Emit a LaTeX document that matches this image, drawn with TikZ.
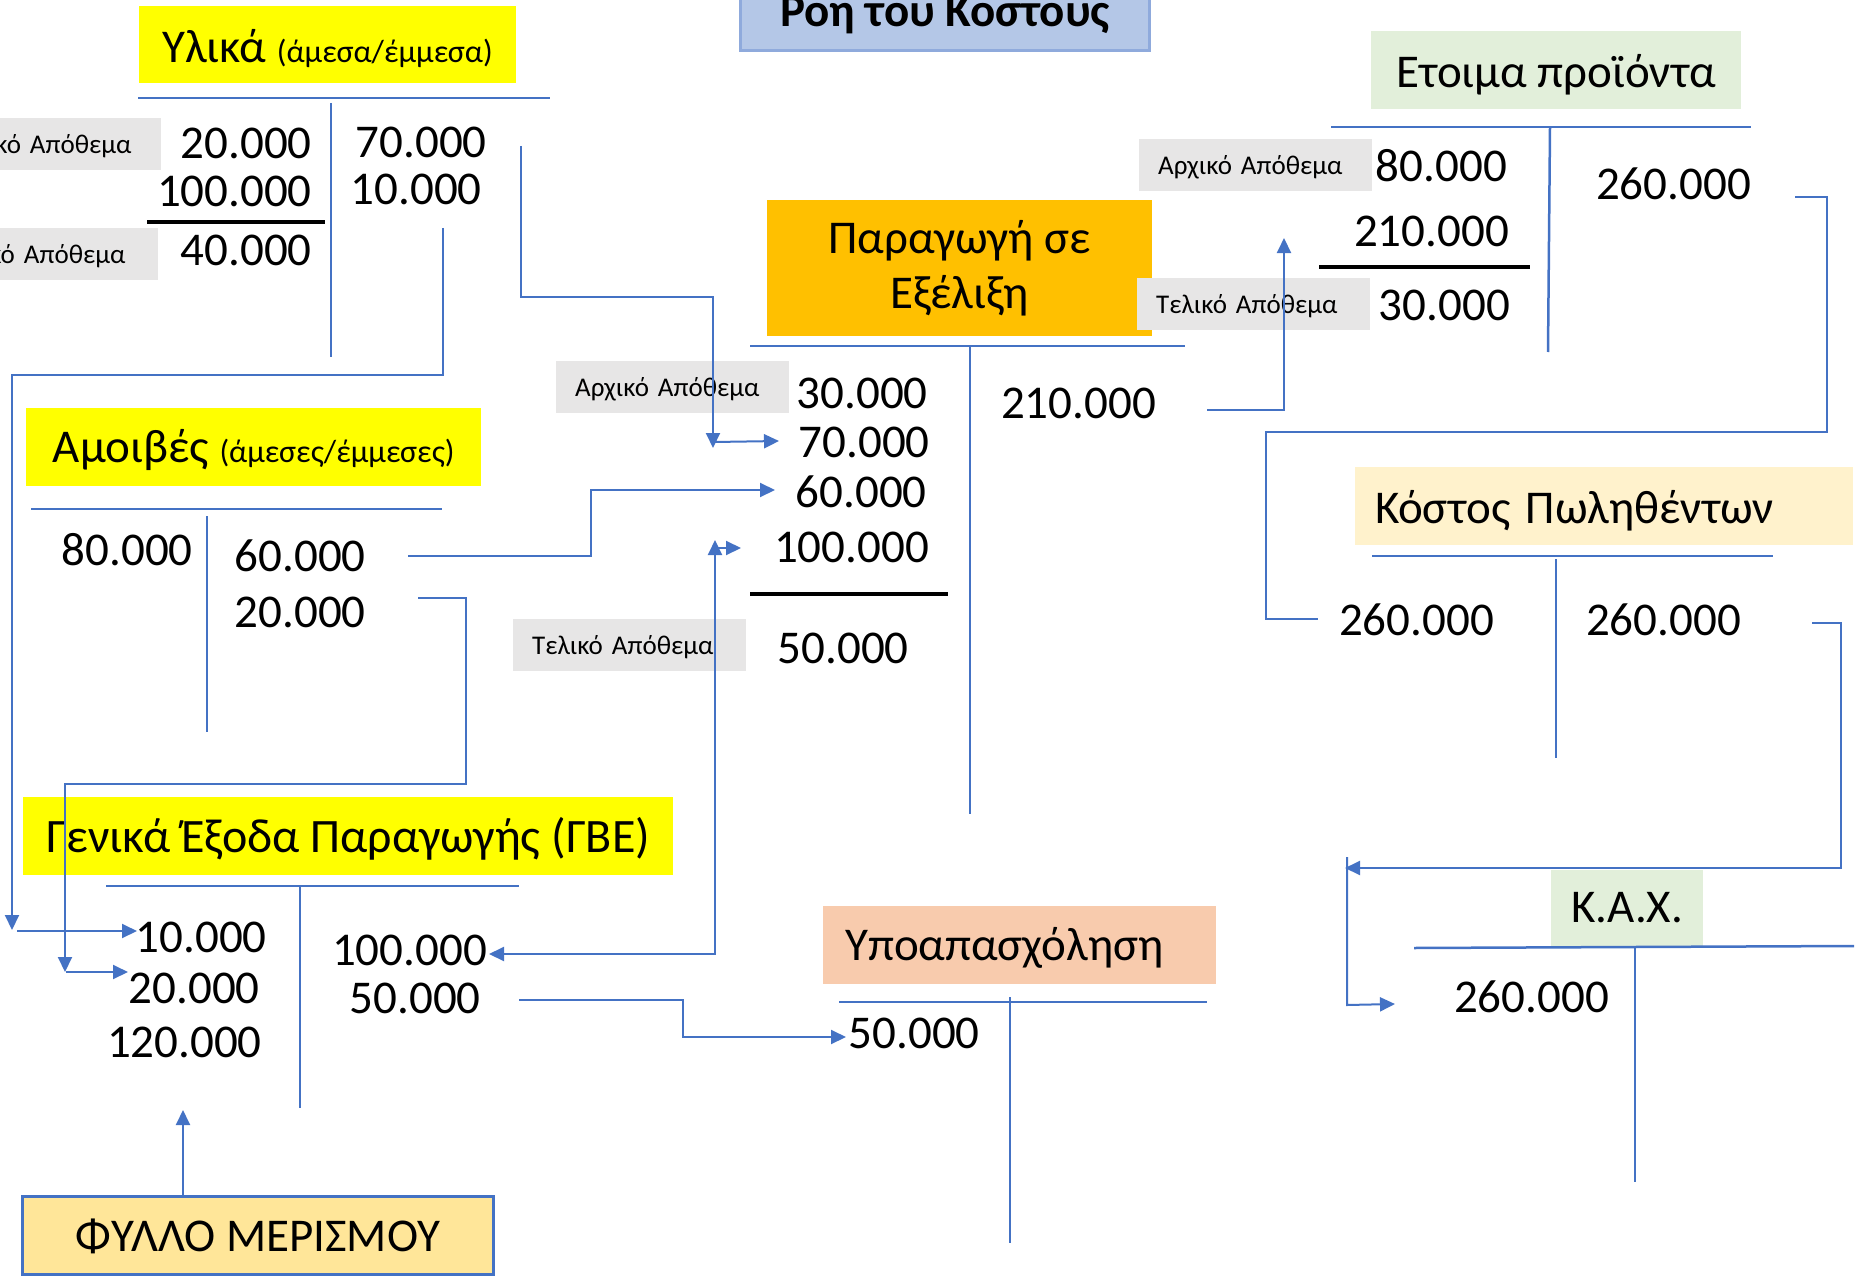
\documentclass[tikz,border=0pt]{standalone}
\usepackage{fontspec}
\setmainfont{Carlito}
\usetikzlibrary{arrows.meta}
\definecolor{lineblue}{HTML}{4472C4}
\definecolor{lblgrey}{HTML}{E7E6E6}
\definecolor{yel}{HTML}{FFFF00}
\definecolor{orng}{HTML}{FFC000}
\definecolor{grn}{HTML}{E2EFDA}
\definecolor{cream}{HTML}{FFF2CC}
\definecolor{salmon}{HTML}{F8CBAD}
\definecolor{goldbox}{HTML}{FFE699}
\definecolor{ttlfill}{HTML}{B4C7E7}
\definecolor{ttlline}{HTML}{8FAADC}
\begin{document}
\begin{tikzpicture}[x=1pt,y=-1pt,
  hdr/.style={inner xsep=0pt, inner ysep=0pt, anchor=north west, font=\fontsize{47}{55}\selectfont},
  lbl/.style={fill=lblgrey, inner ysep=0pt, inner xsep=19pt, anchor=north west, text width=195pt, align=left,
    text height=35pt, text depth=17pt, font=\fontsize{27}{32}\selectfont},
  num/.style={inner sep=0pt, anchor=base east, font=\fontsize{47}{55}\selectfont},
  tline/.style={draw=lineblue, line width=2.5pt},
  uline/.style={draw=black, line width=4pt},
  conn/.style={draw=lineblue, line width=2pt},
  arr/.style={conn, -{Triangle[length=15pt,width=14pt]}},
  darr/.style={conn, {Triangle[length=15pt,width=14pt]}-{Triangle[length=15pt,width=14pt]}}
]
\useasboundingbox (0,0) rectangle (1863,1276);
\clip (0,0) rectangle (1863,1276);

% ---------- title ----------
\node[hdr, fill=ttlfill, draw=ttlline, line width=3pt, minimum width=409pt,
  text height=55pt, text depth=24pt, font=\bfseries\fontsize{47}{55}\selectfont] (title) at (739,-30) {Ροη του Κοστους};

% ---------- header boxes ----------
\node[hdr, fill=yel, minimum width=377pt, text height=56pt, text depth=21pt] (yl) at (139,6)
  {Υλικά {\fontsize{32}{38}\selectfont (άμεσα/έμμεσα)}};
\node[hdr, fill=yel, minimum width=455pt, text height=54pt, text depth=24pt] (am) at (26,408)
  {Αμοιβές {\fontsize{32}{38}\selectfont (άμεσες/έμμεσες)}};
\node[hdr, fill=yel, minimum width=650pt, text height=55pt, text depth=23pt, font=\fontsize{48}{56}\selectfont] (gbe) at (23,797)
  {Γενικά Έξοδα Παραγωγής (ΓΒΕ)};
\node[hdr, fill=orng, minimum width=385pt, minimum height=136pt, align=center] (pa) at (767,200)
  {Παραγωγή σε\\Εξέλιξη};
\node[hdr, fill=grn, minimum width=370pt, text height=56pt, text depth=22pt] (et) at (1371,31)
  {Ετοιμα προϊόντα};
\node[hdr, fill=cream, inner xsep=20pt, text width=458pt, align=left, text height=56pt, text depth=22pt] (ko) at (1355,467)
  {Κόστος Πωληθέντων};
\node[hdr, fill=salmon, inner xsep=22pt, text width=349pt, align=left, text height=54pt, text depth=24pt] (yp) at (823,906)
  {Υποαπασχόληση};
\node[hdr, fill=grn, minimum width=152pt, text height=52pt, text depth=25pt] (kax) at (1551,870)
  {Κ.Α.Χ.};
\node[hdr, fill=goldbox, draw=lineblue, line width=3pt, minimum width=471pt, text height=55pt, text depth=23pt,
  font=\fontsize{47}{55}\selectfont] (fy) at (21,1195) {ΦΥΛΛΟ ΜΕΡΙΣΜΟΥ};

% ---------- grey labels ----------
\node[lbl] (la1) at (-72,118) {Αρχικό Απόθεμα};
\node[lbl] (lt1) at (-75,228) {Τελικό Απόθεμα};
\node[lbl] (la2) at (556,361) {Αρχικό Απόθεμα};
\node[lbl] (lt2) at (513,619) {Τελικό Απόθεμα};
\node[lbl] (la3) at (1139,139) {Αρχικό Απόθεμα};
\node[lbl] (lt3) at (1137,278) {Τελικό Απόθεμα};

% ---------- T accounts ----------
% Yliká
\draw[tline] (138,98) -- (550,98);
\draw[tline] (331,103) -- (331,357);
\node[num] (yl20) at (312,159) {20.000};
\node[num] (yl100) at (312,207) {100.000};
\draw[uline] (147,222) -- (325,222);
\node[num] (yl40) at (312,265) {40.000};
\node[num] (yl70) at (487,158) {70.000};
\node[num] (yl10) at (482,205) {10.000};
% Amoibés
\draw[tline] (31,509) -- (442,509);
\draw[tline] (207,516) -- (207,732);
\node[num] (am80) at (193,565) {80.000};
\node[num] (am60) at (366,571) {60.000};
\node[num] (am20) at (366,627) {20.000};
% GBE
\draw[tline] (106,886) -- (519,886);
\draw[tline] (300,886) -- (300,1108);
\node[num] (g10) at (267,952) {10.000};
\node[num] (g20) at (260,1003) {20.000};
\node[num] (g120) at (262,1057) {120.000};
\node[num] (g100) at (487,965) {100.000};
\node[num] (g50) at (481,1013) {50.000};
% Paragogi
\draw[tline] (750,346) -- (1185,346);
\draw[tline] (970,346) -- (970,814);
\node[num] (p30) at (928,408) {30.000};
\node[num] (p70) at (930,457) {70.000};
\node[num] (p60) at (927,507) {60.000};
\node[num] (p100) at (929,562) {100.000};
\draw[uline] (750,594) -- (948,594);
\node[num] (p50) at (909,663) {50.000};
\node[num] (p210) at (1156,418) {210.000};
% Etoima
\draw[tline] (1331,127) -- (1751,127);
\draw[tline] (1550,127) -- (1548,352);
\node[num] (e80) at (1507,182) {80.000};
\node[num] (e210) at (1509,247) {210.000};
\draw[uline] (1319,267) -- (1530,267);
\node[num] (e30) at (1510,320) {30.000};
\node[num] (e260) at (1751,200) {260.000};
% Kostos
\draw[tline] (1372,556) -- (1773,556);
\draw[tline] (1556,559) -- (1556,758);
\node[num] (k260a) at (1494,635) {260.000};
\node[num] (k260b) at (1741,635) {260.000};
% Ypoapasxolisi
\draw[tline] (839,1002) -- (1207,1002);
\draw[tline] (1010,997) -- (1010,1243);
\node[num] (y50) at (980,1048) {50.000};
% KAX
\draw[tline] (1414,948) -- (1854,946);
\draw[tline] (1635,948) -- (1635,1182);
\node[num] (x260) at (1609,1012) {260.000};

% ---------- connectors ----------
\coordinate (c1s) at (443,228);
\coordinate (c1t) at (12,930);
\coordinate (c1u) at (17,931);
\coordinate (c1e) at (137,931);
\draw[arr] (c1s) -- (443,375) -- (12,375) -- (c1t);
\draw[arr] (c1u) -- (c1e);

\coordinate (c2s) at (521,146);
\coordinate (c2t) at (713,448);
\coordinate (c2u) at (714,442);
\coordinate (c2e) at (779,441);
\draw[arr] (c2s) -- (521,297) -- (713,297) -- (c2t);
\draw[arr] (c2u) -- (c2e);

\coordinate (c3s) at (408,556);
\coordinate (c3e) at (775,490);
\draw[arr] (c3s) -- (591,556) -- (591,490) -- (c3e);

\coordinate (c4s) at (418,598);
\coordinate (c4t) at (65,972);
\coordinate (c4u) at (66,972);
\coordinate (c4e) at (128,972);
\draw[arr] (c4s) -- (466,598) -- (466,784) -- (65,784) -- (c4t);
\draw[arr] (c4u) -- (c4e);

\coordinate (c5s) at (489,954);
\coordinate (c5t) at (715,540);
\coordinate (c5u) at (716,548);
\coordinate (c5e) at (741,548);
\draw[darr] (c5s) -- (715,954) -- (c5t);
\draw[arr] (c5u) -- (c5e);

\coordinate (c6s) at (519,1000);
\coordinate (c6e) at (846,1037);
\draw[arr] (c6s) -- (683,1000) -- (683,1037) -- (c6e);

\coordinate (c7s) at (183,1195);
\coordinate (c7e) at (183,1110);
\draw[arr] (c7s) -- (c7e);

\coordinate (c8s) at (1207,410);
\coordinate (c8e) at (1284,238);
\draw[arr] (c8s) -- (1284,410) -- (c8e);

\coordinate (c9s) at (1795,197);
\coordinate (c9e) at (1318,619);
\draw[conn] (c9s) -- (1827,197) -- (1827,432) -- (1266,432) -- (1266,619) -- (c9e);

\coordinate (c10s) at (1812,623);
\coordinate (c10e) at (1345,868);
\coordinate (c10u) at (1347,857);
\coordinate (c10f) at (1395,1004);
\draw[arr] (c10s) -- (1841,623) -- (1841,868) -- (c10e);
\draw[arr] (c10u) -- (1347,1005) -- (c10f);
\end{tikzpicture}
\end{document}
